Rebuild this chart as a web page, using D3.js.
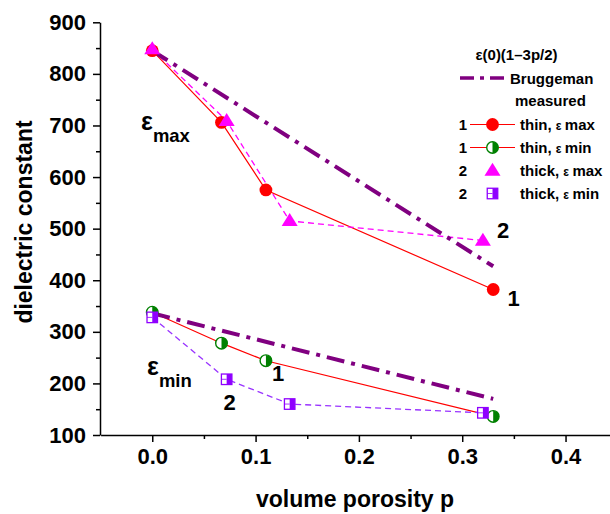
<!DOCTYPE html>
<html>
<head>
<meta charset="utf-8">
<script src="https://cdn.jsdelivr.net/npm/d3@7"></script>
<style>
  html, body { margin: 0; padding: 0; background: #fff; }
  svg { display: block; font-family: "Liberation Sans", Arial, sans-serif; font-weight: bold; }
</style>
</head>
<body>
<svg id="chart" width="610" height="514"></svg>
<script>
// Porosity of each sample set
const porosityThin = [0, 0.067, 0.11, 0.33];
const porosityThick = [0, 0.072, 0.133, 0.32];

// Measured dielectric constants
const thinMax = [845, 706, 575, 382];
const thinMin = [338, 278, 244, 136];
const thickMax = [848, 709, 515, 477];
const thickMin = [328, 208, 160, 143];

// Bruggeman estimate ε(0)(1–3p/2), end points
const bruggemanP = [0, 0.33];
const bruggemanMax = [845, 427];
const bruggemanMin = [336, 170];

// Axis ticks
const xTicks = [0, 0.1, 0.2, 0.3, 0.4];
const xMinorTicks = [0.05, 0.15, 0.25, 0.35];
const yTicks = [100, 200, 300, 400, 500, 600, 700, 800, 900];
const yMinorTicks = [150, 250, 350, 450, 550, 650, 750, 850];

const colors = {
  red: "#ff0000",
  green: "#008000",
  magenta: "#ff00ff",
  violet: "#9933ff",
  violetFill: "#8f00ff",
  brugg: "#800080"
};

const svg = d3.select("#chart");

const x = d3.scaleLinear().domain([-0.05, 0.45]).range([100.6, 617.2]);
const y = d3.scaleLinear().domain([100, 900]).range([435, 22.3]);

// ---- axes ----
const xAxis = svg.append("g").attr("transform", "translate(0,435)")
  .call(d3.axisBottom(x).tickValues(xTicks).tickFormat(d3.format(".1f")).tickSize(7).tickSizeOuter(0).tickPadding(6));
svg.append("g").attr("transform", "translate(0,435)")
  .call(d3.axisBottom(x).tickValues(xMinorTicks).tickFormat("").tickSize(4).tickSizeOuter(0))
  .select(".domain").remove();

const yAxis = svg.append("g").attr("transform", "translate(100,0)")
  .call(d3.axisLeft(y).tickValues(yTicks).tickSize(7).tickSizeOuter(0).tickPadding(7));
svg.append("g").attr("transform", "translate(100,0)")
  .call(d3.axisLeft(y).tickValues(yMinorTicks).tickFormat("").tickSize(4).tickSizeOuter(0))
  .select(".domain").remove();

svg.selectAll(".domain, .tick line").attr("stroke", "#000").attr("stroke-width", 1.5);
xAxis.selectAll("text").attr("font-size", 22).attr("font-weight", "bold").attr("fill", "#000")
  .attr("font-family", "Liberation Sans, Arial, sans-serif");
yAxis.selectAll("text").attr("font-size", 22).attr("font-weight", "bold").attr("fill", "#000")
  .attr("font-family", "Liberation Sans, Arial, sans-serif");

// axis titles
svg.append("text").attr("x", 355).attr("y", 507).attr("text-anchor", "middle")
  .attr("font-size", 23).text("volume porosity p");
svg.append("text").attr("transform", "translate(32,222) rotate(-90)").attr("text-anchor", "middle")
  .attr("font-size", 23).text("dielectric constant");

// ---- lines ----
const line = d3.line().x(d => x(d[0])).y(d => y(d[1]));
const zip = (a, b) => a.map((v, i) => [v, b[i]]);

function drawLine(px, vals, color, width, dash) {
  svg.append("path").datum(zip(px, vals)).attr("d", line)
    .attr("fill", "none").attr("stroke", color).attr("stroke-width", width)
    .attr("stroke-dasharray", dash || null);
}

drawLine(porosityThin, thinMax, colors.red, 1.2);
drawLine(porosityThin, thinMin, colors.red, 1.2);
drawLine(porosityThick, thickMax, colors.magenta, 1.3, "6,4");
drawLine(porosityThick, thickMin, colors.violet, 1.3, "6,4");
drawLine(bruggemanP, bruggemanMax, colors.brugg, 4, "18,7,4,7");
drawLine(bruggemanP, bruggemanMin, colors.brugg, 4, "18,7,4,7");

// ---- markers ----
function circleFull(g, cx, cy) {
  g.append("circle").attr("cx", cx).attr("cy", cy).attr("r", 6.4).attr("fill", colors.red);
}
function circleHalf(g, cx, cy) {
  const r = 5.8;
  g.append("circle").attr("cx", cx).attr("cy", cy).attr("r", r)
    .attr("fill", "#fff").attr("stroke", colors.green).attr("stroke-width", 1.4);
  g.append("path")
    .attr("d", `M${cx},${cy - r} A${r},${r} 0 0 1 ${cx},${cy + r} Z`)
    .attr("fill", colors.green);
}
function triangle(g, cx, cy) {
  const w = 16, h = 13;
  g.append("path")
    .attr("d", `M${cx},${cy - h * 0.6} L${cx + w / 2},${cy + h * 0.4} L${cx - w / 2},${cy + h * 0.4} Z`)
    .attr("fill", colors.magenta);
}
function squareHalf(g, cx, cy) {
  const s = 10.5;
  g.append("rect").attr("x", cx - s / 2).attr("y", cy - s / 2).attr("width", s).attr("height", s)
    .attr("fill", "#fff").attr("stroke", colors.violetFill).attr("stroke-width", 1.3);
  g.append("rect").attr("x", cx).attr("y", cy - s / 2).attr("width", s / 2).attr("height", s)
    .attr("fill", colors.violetFill);
  g.append("line").attr("x1", cx - s / 2).attr("x2", cx).attr("y1", cy).attr("y2", cy)
    .attr("stroke", colors.violetFill).attr("stroke-width", 0.8);
}

const marks = svg.append("g");
zip(porosityThin, thinMax).forEach(d => circleFull(marks, x(d[0]), y(d[1])));
zip(porosityThin, thinMin).forEach(d => circleHalf(marks, x(d[0]), y(d[1])));
zip(porosityThick, thickMax).forEach(d => triangle(marks, x(d[0]), y(d[1])));
zip(porosityThick, thickMin).forEach(d => squareHalf(marks, x(d[0]), y(d[1])));

// ---- curve labels ----
function label(tx, ty, t) {
  svg.append("text").attr("x", tx).attr("y", ty).attr("text-anchor", "middle")
    .attr("font-size", 22).text(t);
}
label(513.5, 306, "1");
label(503, 237.5, "2");
label(278, 380.5, "1");
label(229.5, 409.5, "2");

const eMax = svg.append("text").attr("x", 141).attr("y", 130);
eMax.append("tspan").attr("font-size", 25).text("ε");
eMax.append("tspan").attr("font-size", 18.5).attr("dy", 11.5).text("max");
const eMin = svg.append("text").attr("x", 147).attr("y", 375);
eMin.append("tspan").attr("font-size", 25).text("ε");
eMin.append("tspan").attr("font-size", 18.5).attr("dy", 12).text("min");

// ---- legend ----
const lg = svg.append("g").attr("font-size", 15);
lg.append("text").attr("x", 516.5).attr("y", 59.5).attr("text-anchor", "middle").text("ε(0)(1–3p/2)");
lg.append("line").attr("x1", 460).attr("x2", 505).attr("y1", 78).attr("y2", 78)
  .attr("stroke", colors.brugg).attr("stroke-width", 3.5).attr("stroke-dasharray", "14,6,4,6");
lg.append("text").attr("x", 510).attr("y", 83.5).text("Bruggeman");
lg.append("text").attr("x", 515).attr("y", 106).text("measured");

const legendRows = [
  { num: "1", y: 124.5, line: true, draw: circleFull, name: "thin, ", sub: "max" },
  { num: "1", y: 147.5, line: true, draw: circleHalf, name: "thin, ", sub: "min" },
  { num: "2", y: 170.5, line: false, draw: triangle, name: "thick, ", sub: "max" },
  { num: "2", y: 193.5, line: false, draw: squareHalf, name: "thick, ", sub: "min" }
];
legendRows.forEach(r => {
  lg.append("text").attr("x", 463).attr("y", r.y + 5.5).attr("text-anchor", "middle").text(r.num);
  if (r.line) {
    lg.append("line").attr("x1", 470).attr("x2", 515).attr("y1", r.y).attr("y2", r.y)
      .attr("stroke", colors.red).attr("stroke-width", 1.2);
  }
  r.draw(lg, 492.5, r.y);
  const t = lg.append("text").attr("x", 520).attr("y", r.y + 5.5);
  t.append("tspan").text(r.name);
  t.append("tspan").attr("font-size", 12).text("ε ");
  t.append("tspan").text(r.sub);
});
</script>
</body>
</html>
